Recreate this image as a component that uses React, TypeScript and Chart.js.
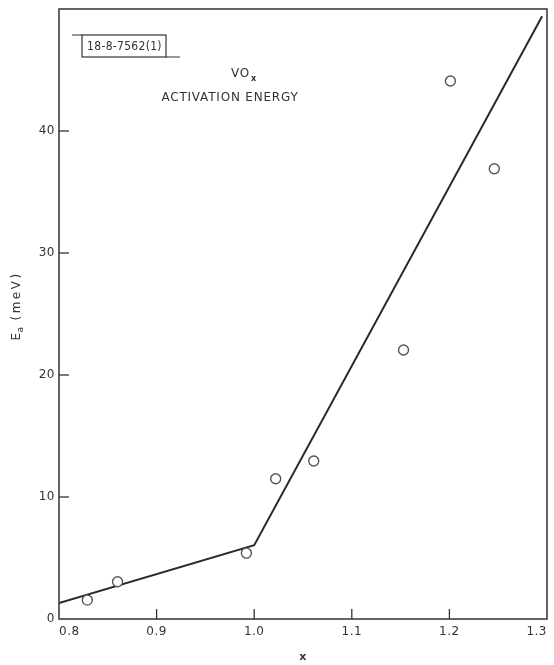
import React, { useEffect, useRef } from "react";
import { Chart, registerables } from "chart.js";

Chart.register(...registerables);

// Measured points (x composition, activation energy in meV)
const pointX = [0.829, 0.86, 0.992, 1.022, 1.061, 1.153, 1.201, 1.246];
const pointY = [1.55, 3.05, 5.4, 11.5, 12.95, 22.05, 44.1, 36.9];

// Fitted broken line
const fitX = [0.8, 1.0, 1.295];
const fitY = [1.3, 6.05, 49.4];

// Axis ticks
const xTicks = [0.8, 0.9, 1.0, 1.1, 1.2, 1.3];
const xTickLabels = ["0.8", "0.9", "1.0", "1.1", "1.2", "1.3"];
const yTicks = [0, 10, 20, 30, 40];
const yTickLabels = ["0", "10", "20", "30", "40"];

const INK = "#333333";
const FONT = '"DejaVu Sans", "Liberation Sans", sans-serif';

const decorPlugin = {
  id: "decor",
  afterDraw(chart: any) {
    const { ctx, chartArea } = chart;
    const xs = chart.scales.x;
    const ys = chart.scales.y;
    const { left, right, top, bottom } = chartArea;
    ctx.save();
    // frame
    ctx.strokeStyle = INK;
    ctx.lineWidth = 1.5;
    ctx.strokeRect(left, top, right - left, bottom - top);

    // inward ticks
    ctx.lineWidth = 1.3;
    const tl = 10;
    xTicks.forEach((v) => {
      if (v === xs.min || v === xs.max) return;
      const px = xs.getPixelForValue(v);
      ctx.beginPath();
      ctx.moveTo(px, bottom);
      ctx.lineTo(px, bottom - tl);
      ctx.stroke();
    });
    yTicks.forEach((v) => {
      if (v === ys.min) return;
      const py = ys.getPixelForValue(v);
      ctx.beginPath();
      ctx.moveTo(left, py);
      ctx.lineTo(left + tl, py);
      ctx.stroke();
    });

    // tick labels
    ctx.fillStyle = INK;
    ctx.font = `12px ${FONT}`;
    (ctx as any).letterSpacing = "0.5px";
    ctx.textBaseline = "middle";
    xTicks.forEach((v, i) => {
      const px = xs.getPixelForValue(v);
      ctx.textAlign = i === 0 ? "left" : i === xTicks.length - 1 ? "right" : "center";
      ctx.fillText(xTickLabels[i], px, bottom + 13);
    });
    ctx.textAlign = "right";
    yTicks.forEach((v, i) => {
      const py = ys.getPixelForValue(v);
      ctx.fillText(yTickLabels[i], left - 4, py);
    });

    // x axis title
    ctx.font = `bold 11px ${FONT}`;
    ctx.textAlign = "center";
    ctx.fillText("x", (left + right) / 2, bottom + 38);

    // y axis title (rotated)
    ctx.save();
    ctx.translate(17, 306);
    ctx.rotate(-Math.PI / 2);
    ctx.textAlign = "left";
    ctx.font = `12px ${FONT}`;
    (ctx as any).letterSpacing = "0px";
    const partE = "E";
    const wE = ctx.measureText(partE).width;
    ctx.font = `9px ${FONT}`;
    const partA = "a";
    const wA = ctx.measureText(partA).width;
    ctx.font = `12px ${FONT}`;
    (ctx as any).letterSpacing = "2.5px";
    const partU = "(meV)";
    const wU = ctx.measureText(partU).width;
    const total = wE + wA + 7 + wU;
    let cx = -total / 2;
    (ctx as any).letterSpacing = "0px";
    ctx.fillText(partE, cx, 0);
    cx += wE;
    ctx.font = `9px ${FONT}`;
    ctx.fillText(partA, cx + 0.5, 4);
    cx += wA + 7;
    ctx.font = `12px ${FONT}`;
    (ctx as any).letterSpacing = "2.5px";
    ctx.fillText(partU, cx, 0);
    ctx.restore();

    // label box
    ctx.lineWidth = 1.2;
    ctx.strokeRect(82, 35, 84, 22);
    ctx.beginPath();
    ctx.moveTo(72, 35);
    ctx.lineTo(82, 35);
    ctx.moveTo(166, 57);
    ctx.lineTo(180, 57);
    ctx.stroke();
    ctx.font = `12px "DejaVu Sans Condensed", "Liberation Sans Narrow", ${FONT}`;
    (ctx as any).letterSpacing = "0.3px";
    ctx.textAlign = "center";
    ctx.fillText("18-8-7562(1)", 124.5, 46.5);

    // title
    ctx.font = `12px ${FONT}`;
    (ctx as any).letterSpacing = "0.8px";
    ctx.textAlign = "left";
    ctx.fillText("VO", 231, 74);
    const wVO = ctx.measureText("VO").width;
    ctx.font = `bold 8px ${FONT}`;
    ctx.fillText("x", 231 + wVO + 1, 79);
    ctx.font = `12px ${FONT}`;
    ctx.textAlign = "center";
    ctx.fillText("ACTIVATION ENERGY", 230, 98);

    ctx.restore();
  },
};

export default function App() {
  const ref = useRef<HTMLCanvasElement | null>(null);
  useEffect(() => {
    document.body.style.margin = "0";
    const canvas = ref.current;
    if (!canvas) return;
    const chart = new Chart(canvas, {
      type: "scatter",
      data: {
        datasets: [
          {
            type: "scatter",
            label: "measured",
            data: pointX.map((x, i) => ({ x, y: pointY[i] })),
            pointRadius: 5,
            pointBorderWidth: 1.4,
            borderColor: "#555555",
            backgroundColor: "#ffffff",
          },
          {
            type: "line",
            label: "fit",
            data: fitX.map((x, i) => ({ x, y: fitY[i] })),
            borderColor: "#2a2a2a",
            borderWidth: 2,
            pointRadius: 0,
            tension: 0,
            fill: false,
          } as any,
        ],
      },
      options: {
        animation: false,
        responsive: false,
        devicePixelRatio: 1,
        layout: { padding: { left: 59, right: 7, top: 9, bottom: 46 } },
        plugins: { legend: { display: false }, tooltip: { enabled: false } },
        scales: {
          x: { type: "linear", min: 0.8, max: 1.3, display: false },
          y: { type: "linear", min: 0, max: 50, display: false },
        },
      },
      plugins: [decorPlugin],
    });
    return () => chart.destroy();
  }, []);
  return (
    <div style={{ width: 554, height: 665 }}>
      <canvas ref={ref} width={554} height={665} style={{ display: "block" }} />
    </div>
  );
}
